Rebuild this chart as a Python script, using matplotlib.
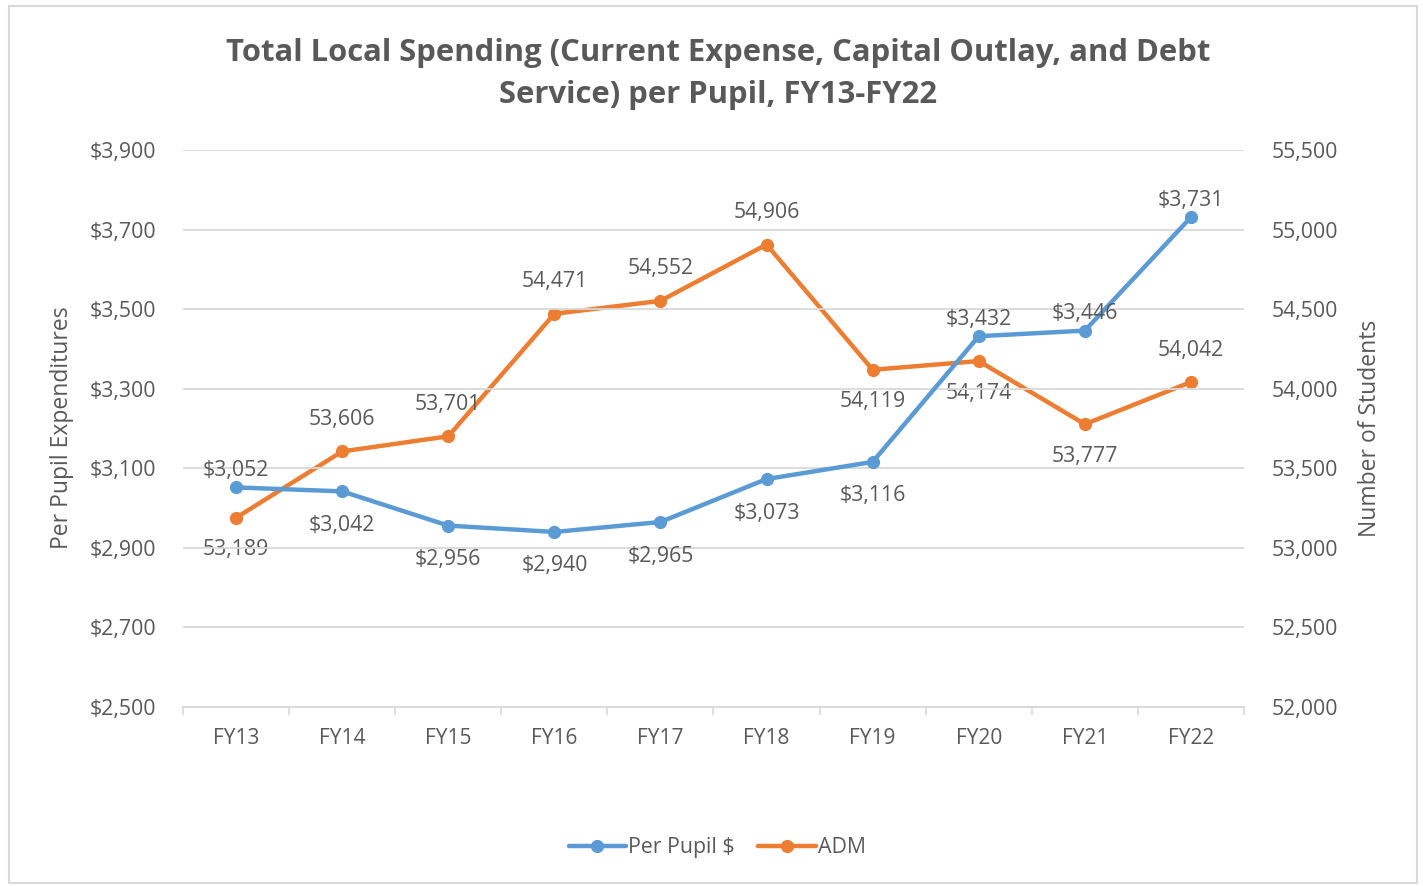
import numpy as np
import matplotlib.pyplot as plt
from matplotlib.ticker import FuncFormatter, FixedLocator

plt.rcParams['font.family'] = ['Open Sans', 'DejaVu Sans']

# data
years = ['FY13', 'FY14', 'FY15', 'FY16', 'FY17', 'FY18', 'FY19', 'FY20', 'FY21', 'FY22']
per_pupil = [3052, 3042, 2956, 2940, 2965, 3073, 3116, 3432, 3446, 3731]
adm = [53189, 53606, 53701, 54471, 54552, 54906, 54119, 54174, 53777, 54042]

# where each data label sits relative to its point
pp_side = ['up', 'down', 'down', 'down', 'down', 'down', 'down', 'up', 'up', 'up']
adm_side = ['down', 'up', 'up', 'up', 'up', 'up', 'down', 'down', 'down', 'up']

BLUE = '#5B9BD5'
ORANGE = '#ED7D31'
TXT = '#595959'
GRID = '#D9D9D9'

fig = plt.figure(figsize=(14.23, 8.86), dpi=100)
ax = fig.add_axes([0.1286, 0.2020, 0.7456, 0.6287])
ax2 = ax.twinx()

x = np.arange(len(years))

ax.plot(x, per_pupil, color=BLUE, lw=3.2, marker='o', ms=8.5, zorder=3,
        label='Per Pupil $', solid_capstyle='round')
ax2.plot(x, adm, color=ORANGE, lw=3.2, marker='o', ms=8.5, zorder=3,
         label='ADM', solid_capstyle='round')

ax.set_xlim(-0.5, 9.5)
ax.set_ylim(2500, 3900)
ax2.set_ylim(52000, 55500)
ax.set_yticks(np.arange(2500, 3901, 200))
ax2.set_yticks(np.arange(52000, 55501, 500))
ax.yaxis.set_major_formatter(FuncFormatter(lambda v, p: '${:,.0f}'.format(v)))
ax2.yaxis.set_major_formatter(FuncFormatter(lambda v, p: '{:,.0f}'.format(v)))

ax.set_xticks(x)
ax.set_xticklabels(years)
ax.xaxis.set_minor_locator(FixedLocator(np.arange(-0.5, 10, 1)))
ax.tick_params(axis='x', which='major', length=0, pad=15, labelsize=15, labelcolor=TXT)
ax.tick_params(axis='x', which='minor', length=6, color=GRID, width=1.2)
ax.tick_params(axis='y', length=0, pad=19, labelsize=15.3, labelcolor=TXT)
ax2.tick_params(axis='y', length=0, pad=20, labelsize=15.3, labelcolor=TXT)

ax.grid(axis='y', color=GRID, lw=1.3)
ax.set_axisbelow(True)
for a in (ax, ax2):
    for s in ['top', 'left', 'right']:
        a.spines[s].set_visible(False)
    a.spines['bottom'].set_color(GRID)
    a.spines['bottom'].set_linewidth(1.3)

ax.set_zorder(ax2.get_zorder() + 1)
ax.patch.set_visible(False)

# data labels
for i, v in enumerate(per_pupil):
    dy = 17 if pp_side[i] == 'up' else -34
    ax.annotate('${:,}'.format(v), (x[i], v), xytext=(0, dy), textcoords='offset pixels',
                ha='center', va='center', fontsize=15.3, color=TXT)
for i, v in enumerate(adm):
    dy = 32 if adm_side[i] == 'up' else -32
    ax2.annotate('{:,}'.format(v), (x[i], v), xytext=(0, dy), textcoords='offset pixels',
                 ha='center', va='center', fontsize=15.3, color=TXT)

fig.text(0.5046, 0.9165, 'Total Local Spending (Current Expense, Capital Outlay, and Debt\nService) per Pupil, FY13-FY22',
         ha='center', va='center', fontsize=22.3, fontweight='bold', color=TXT, linespacing=1.5)

fig.text(0.0436, 0.517, 'Per Pupil Expenditures', rotation=90, ha='center', va='center',
         fontsize=16.5, color=TXT)
fig.text(0.9627, 0.517, 'Number of Students', rotation=90, ha='center', va='center',
         fontsize=16.5, color=TXT)

h1, l1 = ax.get_legend_handles_labels()
h2, l2 = ax2.get_legend_handles_labels()
fig.legend(h1 + h2, l1 + l2, loc='center', bbox_to_anchor=(0.504, 0.043), ncol=2,
           frameon=False, fontsize=15.3, labelcolor=TXT, handlelength=2.7,
           handletextpad=0.1, columnspacing=1.1)

# chart border
fig.patches.append(plt.Rectangle((0.006, 0.003), 0.99, 0.99, transform=fig.transFigure,
                                 fill=False, edgecolor=GRID, lw=1.5))

fig.savefig('out.png', dpi=100)
